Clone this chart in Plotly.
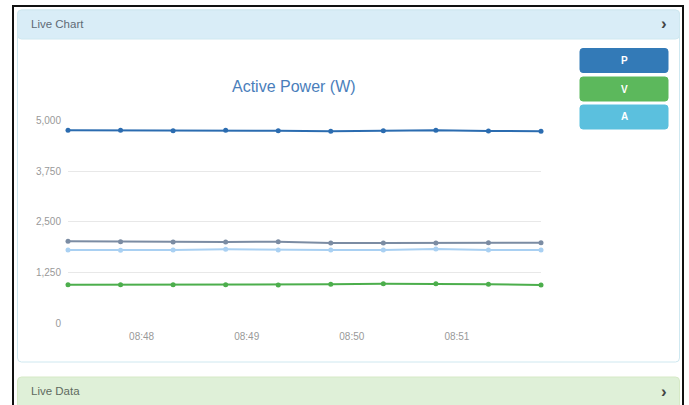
import plotly.graph_objects as go

# ---------------- data ----------------
times = ["2024-01-01 08:47:18", "2024-01-01 08:47:48", "2024-01-01 08:48:18",
         "2024-01-01 08:48:48", "2024-01-01 08:49:18", "2024-01-01 08:49:48",
         "2024-01-01 08:50:18", "2024-01-01 08:50:48", "2024-01-01 08:51:18",
         "2024-01-01 08:51:48"]
total_w = [4763, 4763, 4753, 4763, 4753, 4738, 4753, 4763, 4746, 4738]
l1_w = [2019, 2009, 2002, 2002, 2009, 1977, 1977, 1977, 1985, 1985]
l2_w = [1804, 1797, 1804, 1822, 1804, 1804, 1804, 1829, 1804, 1804]
l3_w = [947, 947, 947, 947, 939, 956, 971, 971, 956, 939]
y_ticks = [0, 1250, 2500, 3750, 5000]
y_tick_labels = ["0", "1,250", "2,500", "3,750", "5,000"]
buttons = ["P", "V", "A"]
title_text = "Active Power (W)"

# ---------------- helpers ----------------
W, H = 689, 405
FONT = "Liberation Sans, Arial, sans-serif"


def fx(px):
    return px / W


def fy(py):
    return 1 - py / H


def rrect(x0, y0, x1, y1, r):
    pts = [
        f"M {fx(x0 + r)} {fy(y0)}",
        f"L {fx(x1 - r)} {fy(y0)}",
        f"Q {fx(x1)} {fy(y0)} {fx(x1)} {fy(y0 + r)}",
        f"L {fx(x1)} {fy(y1 - r)}",
        f"Q {fx(x1)} {fy(y1)} {fx(x1 - r)} {fy(y1)}",
        f"L {fx(x0 + r)} {fy(y1)}",
        f"Q {fx(x0)} {fy(y1)} {fx(x0)} {fy(y1 - r)}",
        f"L {fx(x0)} {fy(y0 + r)}",
        f"Q {fx(x0)} {fy(y0)} {fx(x0 + r)} {fy(y0)}",
        "Z",
    ]
    return " ".join(pts)


fig = go.Figure()

series = [
    ("Total", total_w, "#2b6cb0"),
    ("L1", l1_w, "#7b8ca3"),
    ("L2", l2_w, "#a9d0f2"),
    ("L3", l3_w, "#4cae4c"),
]
for name, vals, col in series:
    fig.add_trace(go.Scatter(
        x=times, y=vals, name=name, mode="lines+markers",
        line=dict(color=col, width=2),
        marker=dict(color=col, size=5),
        cliponaxis=False, hoverinfo="x+y+name"))

shapes = []
# outer black frame
shapes.append(dict(type="rect", xref="paper", yref="paper",
                   x0=fx(13), x1=fx(683), y0=fy(420), y1=fy(6),
                   line=dict(color="#111", width=2), fillcolor="rgba(0,0,0,0)", layer="below"))
# chart panel body
shapes.append(dict(type="path", xref="paper", yref="paper",
                   path=rrect(17.5, 10, 679.5, 362, 4),
                   line=dict(color="#cfe8f0", width=1), fillcolor="#ffffff", layer="below"))
# chart panel header
shapes.append(dict(type="path", xref="paper", yref="paper",
                   path=rrect(17.5, 10, 679.5, 39, 4),
                   line=dict(color="#cfe8f0", width=1), fillcolor="#d9edf7", layer="below"))
# live data header
shapes.append(dict(type="path", xref="paper", yref="paper",
                   path=rrect(17.5, 377, 679.5, 420, 4),
                   line=dict(color="#d6e9c6", width=1), fillcolor="#dff0d8", layer="below"))

btn_colors = ["#337ab7", "#5cb85c", "#5bc0de"]
btn_y = [(48.5, 72.5), (77, 101), (105, 129)]
annotations = []
for label, col, (y0, y1) in zip(buttons, btn_colors, btn_y):
    shapes.append(dict(type="path", xref="paper", yref="paper",
                       path=rrect(580, y0, 668, y1, 3),
                       line=dict(color=col, width=1), fillcolor=col, layer="above"))
    annotations.append(dict(xref="paper", yref="paper", x=fx(624), y=fy((y0 + y1) / 2),
                            text=f"<b>{label}</b>", showarrow=False,
                            font=dict(color="white", size=10, family=FONT),
                            xanchor="center", yanchor="middle"))

annotations += [
    dict(xref="paper", yref="paper", x=fx(29), y=fy(24), text="Live Chart",
         showarrow=False, xanchor="left", yanchor="middle",
         font=dict(color="#5f6b75", size=11.5, family=FONT)),
    dict(xref="paper", yref="paper", x=fx(664), y=fy(24), text="<b>›</b>",
         showarrow=False, xanchor="center", yanchor="middle",
         font=dict(color="#444", size=17, family=FONT)),
    dict(xref="paper", yref="paper", x=fx(29), y=fy(391), text="Live Data",
         showarrow=False, xanchor="left", yanchor="middle",
         font=dict(color="#5f6b5f", size=11.5, family=FONT)),
    dict(xref="paper", yref="paper", x=fx(664), y=fy(391), text="<b>›</b>",
         showarrow=False, xanchor="center", yanchor="middle",
         font=dict(color="#444", size=17, family=FONT)),
    dict(xref="paper", yref="paper", x=fx(294), y=fy(87), text=title_text,
         showarrow=False, xanchor="center", yanchor="middle",
         font=dict(color="#4a7ebb", size=16, family=FONT)),
]

fig.update_layout(
    width=W, height=H,
    margin=dict(l=0, r=0, t=0, b=0),
    paper_bgcolor="white", plot_bgcolor="rgba(0,0,0,0)",
    showlegend=False,
    font=dict(family=FONT),
    shapes=shapes, annotations=annotations,
    xaxis=dict(domain=[fx(68), fx(541)], type="date",
               range=[times[0], times[-1]],
               tickformat="%H:%M", dtick=60000, tick0="2024-01-01 08:48:00",
               showgrid=False, zeroline=False, showline=False, ticks="",
               tickfont=dict(size=10, color="#999"), ticklabelstandoff=6,
               automargin=False, fixedrange=True),
    yaxis=dict(domain=[fy(323), fy(120.7)], range=[0, 5000],
               tickvals=y_ticks, ticktext=y_tick_labels,
               showgrid=True, gridcolor="#e8e8e8", gridwidth=1,
               zeroline=False, showline=False, ticks="",
               tickfont=dict(size=10, color="#999"), ticklabelstandoff=6,
               automargin=False, fixedrange=True),
)

fig.write_html("out.html", config={"displayModeBar": False},
               post_script="document.body.style.margin='0';document.body.style.overflow='hidden';")
